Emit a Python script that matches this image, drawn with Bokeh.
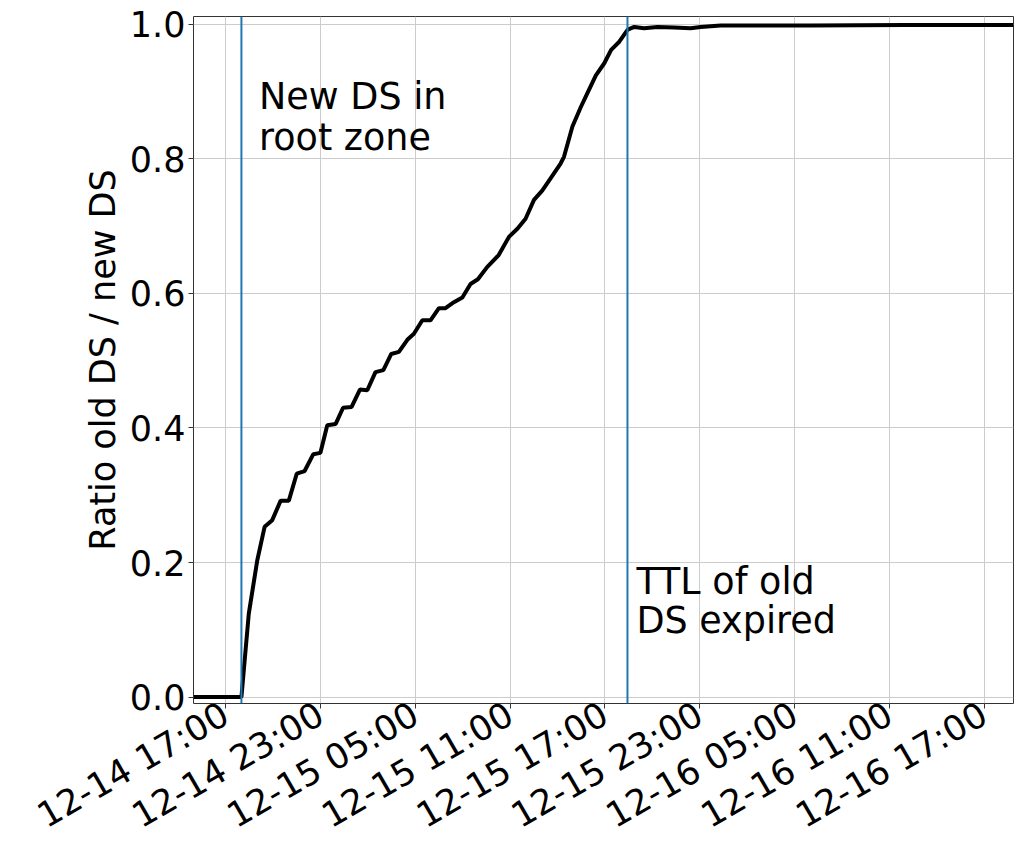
import math
import pandas as pd
from bokeh.plotting import figure
from bokeh.models import (Range1d, FixedTicker, DatetimeTickFormatter, NumeralTickFormatter,
                          Span, Label, ColumnDataSource)
from bokeh.embed import file_html
from bokeh.resources import INLINE

YEAR = "2017"

# measurement times (month-day hour:minute) and ratio old DS / new DS
times = [
    "12-14 14:58", "12-14 18:00", "12-14 18:28", "12-14 19:00", "12-14 19:28", "12-14 19:57",
    "12-14 20:29", "12-14 21:00", "12-14 21:30", "12-14 22:00", "12-14 22:33", "12-14 23:00",
    "12-14 23:26", "12-14 23:58", "12-15 00:26", "12-15 00:58", "12-15 01:30", "12-15 01:58",
    "12-15 02:29", "12-15 02:59", "12-15 03:29", "12-15 03:58", "12-15 04:30", "12-15 04:55",
    "12-15 05:27", "12-15 05:58", "12-15 06:30", "12-15 06:55", "12-15 07:27", "12-15 07:59",
    "12-15 08:30", "12-15 08:58", "12-15 09:33", "12-15 10:17", "12-15 10:56", "12-15 11:28",
    "12-15 11:59", "12-15 12:31", "12-15 13:03", "12-15 13:34", "12-15 14:12", "12-15 14:25",
    "12-15 14:57", "12-15 15:29", "12-15 15:53", "12-15 16:26", "12-15 16:58", "12-15 17:24",
    "12-15 17:55", "12-15 18:27", "12-15 18:52", "12-15 19:29", "12-15 20:20", "12-15 21:23",
    "12-15 22:26", "12-15 23:04", "12-16 00:20", "12-16 06:00", "12-16 12:00", "12-16 18:52",
]
ratios = [
    0.000, 0.000, 0.124, 0.203, 0.253, 0.263,
    0.292, 0.292, 0.332, 0.336, 0.361, 0.363,
    0.404, 0.406, 0.430, 0.431, 0.457, 0.456,
    0.483, 0.486, 0.510, 0.513, 0.531, 0.540,
    0.560, 0.560, 0.578, 0.578, 0.587, 0.594,
    0.614, 0.621, 0.639, 0.657, 0.684, 0.696,
    0.711, 0.739, 0.753, 0.771, 0.793, 0.803,
    0.848, 0.877, 0.897, 0.924, 0.942, 0.962,
    0.974, 0.992, 0.996, 0.994, 0.996, 0.995,
    0.994, 0.996, 0.998, 0.998, 0.999, 0.999,
]

x_tick_labels = ["12-14 17:00", "12-14 23:00", "12-15 05:00", "12-15 11:00", "12-15 17:00",
                 "12-15 23:00", "12-16 05:00", "12-16 11:00", "12-16 17:00"]
y_ticks = [0.0, 0.2, 0.4, 0.6, 0.8, 1.0]

event_times = ["12-14 18:00", "12-15 18:26"]
note1_lines = ["New DS in", "root zone"]
note1_x = "12-14 19:07"
note1_y = [0.892, 0.831]
note2_lines = ["TTL of old", "DS expired"]
note2_x = "12-15 19:00"
note2_y = [0.172, 0.114]

x_start, x_end = "12-14 14:58", "12-16 18:52"
y_start, y_end = -0.0095, 1.0115


def ms(s):
    return pd.Timestamp(f"{YEAR}-{s}").value / 1e6


FONT = "DejaVu Sans"

src = ColumnDataSource(dict(t=[ms(s) for s in times], r=ratios))

p = figure(width=1024, height=862, x_axis_type="datetime", output_backend="svg",
           toolbar_location=None,
           x_range=Range1d(ms(x_start), ms(x_end)), y_range=Range1d(y_start, y_end),
           min_border_left=193, min_border_right=11, min_border_top=16, min_border_bottom=159)
p.background_fill_color = "white"
p.border_fill_color = "white"
p.outline_line_color = "#333333"
p.outline_line_width = 1

p.xaxis.ticker = FixedTicker(ticks=[ms(s) for s in x_tick_labels])
fmt = "%m-%d %H:%M"
p.xaxis.formatter = DatetimeTickFormatter(milliseconds=fmt, seconds=fmt, minsec=fmt, minutes=fmt,
                                          hourmin=fmt, hours=fmt, days=fmt, months=fmt, years=fmt)
p.xaxis.major_label_orientation = math.pi / 6
p.yaxis.ticker = FixedTicker(ticks=y_ticks)
p.yaxis.formatter = NumeralTickFormatter(format="0.0")
p.yaxis.axis_label = "Ratio old DS / new DS"

for ax in (p.xaxis, p.yaxis):
    ax.major_label_text_font = FONT
    ax.major_label_text_font_size = "35px"
    ax.major_label_text_color = "black"
    ax.axis_label_text_font = FONT
    ax.axis_label_text_font_size = "35px"
    ax.axis_label_text_font_style = "normal"
    ax.axis_label_text_color = "black"
    ax.axis_line_color = None
    ax.major_tick_line_color = "#333333"
    ax.major_tick_out = 5
    ax.major_tick_in = 0
    ax.minor_tick_line_color = None
    ax.major_label_standoff = 3
p.yaxis.axis_label_standoff = 4

p.grid.grid_line_color = "#cccccc"
p.grid.grid_line_width = 1

p.line(x="t", y="r", source=src, line_color="black", line_width=4)

for et in event_times:
    p.add_layout(Span(location=ms(et), dimension="height", line_color="#1f77b4", line_width=2))

for lines, nx, ny in ((note1_lines, note1_x, note1_y), (note2_lines, note2_x, note2_y)):
    for txt, yy in zip(lines, ny):
        p.add_layout(Label(x=ms(nx), y=yy, text=txt, text_font=FONT, text_font_size="36.5px",
                           text_color="black", text_baseline="alphabetic"))

open("out.html", "w").write(file_html(p, INLINE))
